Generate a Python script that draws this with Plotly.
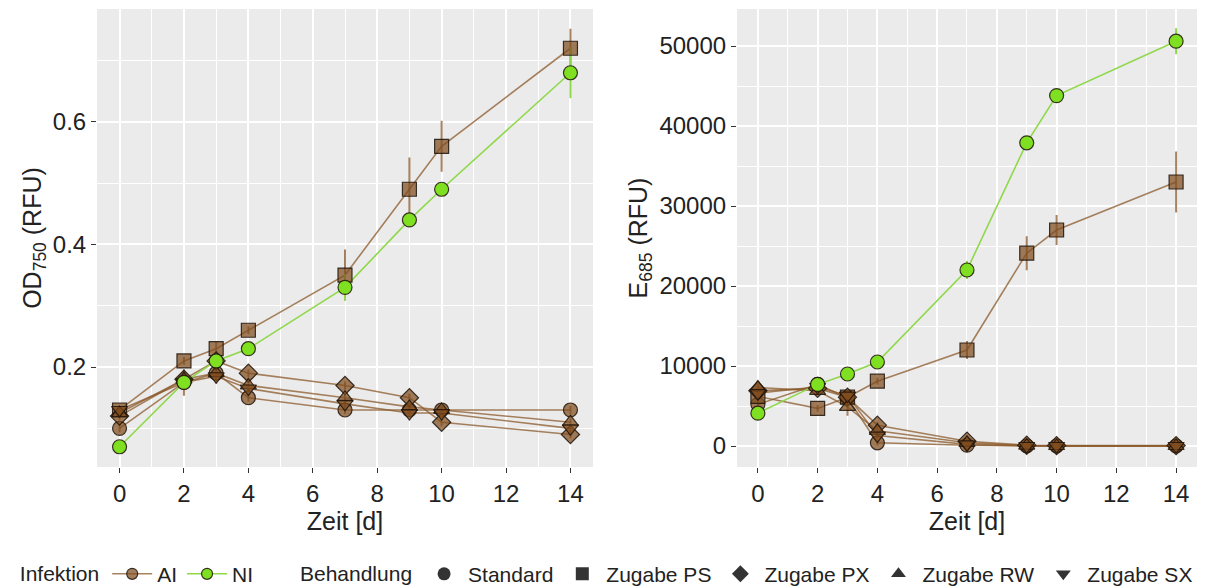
import plotly.graph_objects as go

# ---------------- data ----------------
days = [0, 2, 3, 4, 7, 9, 10, 14]
behandlung = ["Standard", "Zugabe PS", "Zugabe PX", "Zugabe RW", "Zugabe SX"]

# OD750 (left panel)
od_ai_standard = [0.10, 0.175, 0.19, 0.15, 0.13, 0.13, 0.13, 0.13]
od_ai_ps = [0.13, 0.21, 0.23, 0.26, 0.35, 0.49, 0.56, 0.72]
od_ai_px = [0.12, 0.18, 0.21, 0.19, 0.17, 0.15, 0.11, 0.09]
od_ai_rw = [0.125, 0.18, 0.19, 0.17, 0.15, 0.135, 0.13, 0.11]
od_ai_sx = [0.13, 0.175, 0.185, 0.165, 0.14, 0.125, 0.125, 0.10]
od_ni_standard = [0.07, 0.175, 0.21, 0.23, 0.33, 0.44, 0.49, 0.68]

od_err_ai_standard = [0.005, 0.01, 0.005, 0.005, 0.005, 0.005, 0.005, 0.005]
od_err_ai_ps = [0.005, 0.005, 0.01, 0.005, 0.04, 0.05, 0.04, 0.03]
od_err_ai_px = [0.005, 0.01, 0.01, 0.005, 0.005, 0.005, 0.005, 0.005]
od_err_ai_rw = [0.005, 0.01, 0.01, 0.01, 0.005, 0.005, 0.005, 0.005]
od_err_ai_sx = [0.005, 0.02, 0.01, 0.005, 0.005, 0.005, 0.005, 0.005]
od_err_ni_standard = [0.005, 0.01, 0.005, 0.005, 0.02, 0.01, 0.005, 0.04]

# E685 (right panel)
e_ai_standard = [5200, 7700, 6000, 400, 100, 0, 0, 0]
e_ai_ps = [6200, 4700, 6100, 8100, 12000, 24100, 27000, 33000]
e_ai_px = [6900, 7200, 6100, 2600, 600, 100, 50, 50]
e_ai_rw = [7300, 6900, 4900, 1900, 400, 50, 0, 0]
e_ai_sx = [6600, 7400, 6300, 1300, 200, 0, 0, 0]
e_ni_standard = [4100, 7700, 9000, 10500, 22000, 37900, 43800, 50600]

e_err_ai_standard = [300, 300, 300, 200, 100, 50, 50, 50]
e_err_ai_ps = [300, 300, 400, 300, 1000, 2000, 1750, 3700]
e_err_ai_px = [300, 300, 300, 300, 200, 50, 50, 50]
e_err_ai_rw = [300, 300, 1000, 300, 200, 50, 50, 50]
e_err_ai_sx = [300, 300, 300, 300, 100, 50, 50, 50]
e_err_ni_standard = [300, 300, 300, 300, 1000, 300, 300, 1500]

od_ticks = [0.2, 0.4, 0.6]
e_ticks = [0, 10000, 20000, 30000, 40000, 50000]
day_ticks = [0, 2, 4, 6, 8, 10, 12, 14]

# ---------------- styling ----------------
FONT = "Liberation Sans, Arial, sans-serif"
BROWN_LINE = "rgba(139,90,43,0.75)"
BROWN_FILL = "rgba(128,76,30,0.72)"
GREEN_LINE = "#8fd84a"
GREEN_FILL = "#7ee021"
OUTLINE = "rgba(30,20,10,0.85)"
SYMBOLS = {"Standard": "circle", "Zugabe PS": "square", "Zugabe PX": "diamond",
           "Zugabe RW": "triangle-up", "Zugabe SX": "triangle-down"}

od_groups = [
    ("AI", "Standard", od_ai_standard, od_err_ai_standard),
    ("AI", "Zugabe PS", od_ai_ps, od_err_ai_ps),
    ("AI", "Zugabe PX", od_ai_px, od_err_ai_px),
    ("AI", "Zugabe RW", od_ai_rw, od_err_ai_rw),
    ("AI", "Zugabe SX", od_ai_sx, od_err_ai_sx),
    ("NI", "Standard", od_ni_standard, od_err_ni_standard),
]
e_groups = [
    ("AI", "Standard", e_ai_standard, e_err_ai_standard),
    ("AI", "Zugabe PS", e_ai_ps, e_err_ai_ps),
    ("AI", "Zugabe PX", e_ai_px, e_err_ai_px),
    ("AI", "Zugabe RW", e_ai_rw, e_err_ai_rw),
    ("AI", "Zugabe SX", e_ai_sx, e_err_ai_sx),
    ("NI", "Standard", e_ni_standard, e_err_ni_standard),
]

fig = go.Figure()


def add_panel(groups, xa, ya):
    # lines + error bars first
    for inf, beh, vals, errs in groups:
        lc = BROWN_LINE if inf == "AI" else GREEN_LINE
        fig.add_trace(go.Scatter(
            x=days, y=vals, mode="lines", xaxis=xa, yaxis=ya,
            line=dict(color=lc, width=1.6), showlegend=False, hoverinfo="skip",
            error_y=dict(type="data", array=errs, visible=True, color=lc,
                         thickness=2, width=1)))
    # points on top
    for inf, beh, vals, errs in groups:
        fc = BROWN_FILL if inf == "AI" else GREEN_FILL
        fig.add_trace(go.Scatter(
            x=days, y=vals, mode="markers", xaxis=xa, yaxis=ya,
            marker=dict(symbol=SYMBOLS[beh], size=14, color=fc,
                        line=dict(color=OUTLINE, width=1.2)),
            showlegend=False, name=f"{inf} {beh}"))


add_panel(od_groups, "x", "y")
add_panel(e_groups, "x2", "y2")

# legend entries: Infektion
for inf, lc, fc in [("AI", BROWN_LINE, BROWN_FILL), ("NI", GREEN_LINE, GREEN_FILL)]:
    fig.add_trace(go.Scatter(
        x=[None], y=[None], mode="lines+markers", name=inf, legend="legend",
        line=dict(color=lc, width=1.6),
        marker=dict(symbol="circle", size=11, color=fc, line=dict(color=OUTLINE, width=1.2))))
# legend entries: Behandlung
for beh in behandlung:
    fig.add_trace(go.Scatter(
        x=[None], y=[None], mode="markers", name=beh, legend="legend2",
        marker=dict(symbol=SYMBOLS[beh], size=13, color="#333333", line=dict(width=0))))

axis_common = dict(
    showgrid=True, gridcolor="white", gridwidth=1.6, zeroline=False,
    ticks="outside", ticklen=5, tickwidth=1.2, tickcolor="#333333",
    tickfont=dict(family=FONT, size=24, color="#222222"), showline=False,
    automargin=False,
)
minor_common = dict(showgrid=True, gridcolor="white", gridwidth=0.7, ticks="")
title_font = dict(family=FONT, size=25, color="#222222")

# page body has an 8px margin: figure offset by 8px inside the window
fig.update_layout(
    width=1191, height=580,
    margin=dict(l=89, r=2, t=1, b=121, autoexpand=False),
    paper_bgcolor="white", plot_bgcolor="#EBEBEB",
    font=dict(family=FONT, color="#222222"),
    xaxis=dict(domain=[0, 0.4509], range=[-0.7, 14.7], tickvals=day_ticks,
               minor=dict(tickvals=[1, 3, 5, 7, 9, 11, 13], **minor_common),
               title=dict(text="Zeit [d]", font=title_font, standoff=6),
               **axis_common),
    yaxis=dict(range=[0.037, 0.784], tickvals=od_ticks, ticktext=[f"{v:.1f}" for v in od_ticks],
               minor=dict(tickvals=[0.1, 0.3, 0.5, 0.7], **minor_common),
               title=dict(text="OD<sub>750</sub> (RFU)", font=title_font, standoff=4),
               **axis_common),
    xaxis2=dict(domain=[0.5818, 1], anchor="y2", range=[-0.7, 14.7],
                tickvals=day_ticks,
                minor=dict(tickvals=[1, 3, 5, 7, 9, 11, 13], **minor_common),
                title=dict(text="Zeit [d]", font=title_font, standoff=6),
                **axis_common),
    yaxis2=dict(anchor="x2", range=[-2625, 54625],
                tickvals=e_ticks, ticktext=[str(v) for v in e_ticks],
                minor=dict(tickvals=[5000, 15000, 25000, 35000, 45000], **minor_common),
                title=dict(text="E<sub>685</sub> (RFU)", font=title_font, standoff=4),
                **axis_common),
    legend=dict(orientation="h", x=-0.072, xanchor="left", y=-0.234, yanchor="middle",
                title=dict(text="Infektion", side="left", font=dict(family=FONT, size=21)),
                font=dict(family=FONT, size=21), itemwidth=40, bgcolor="rgba(0,0,0,0)",
                tracegroupgap=0),
    legend2=dict(orientation="h", x=0.1827, xanchor="left", y=-0.234, yanchor="middle",
                 title=dict(text="Behandlung", side="left", font=dict(family=FONT, size=21)),
                 font=dict(family=FONT, size=21), itemwidth=38, bgcolor="rgba(0,0,0,0)"),
)

fig.write_html("out.html")
